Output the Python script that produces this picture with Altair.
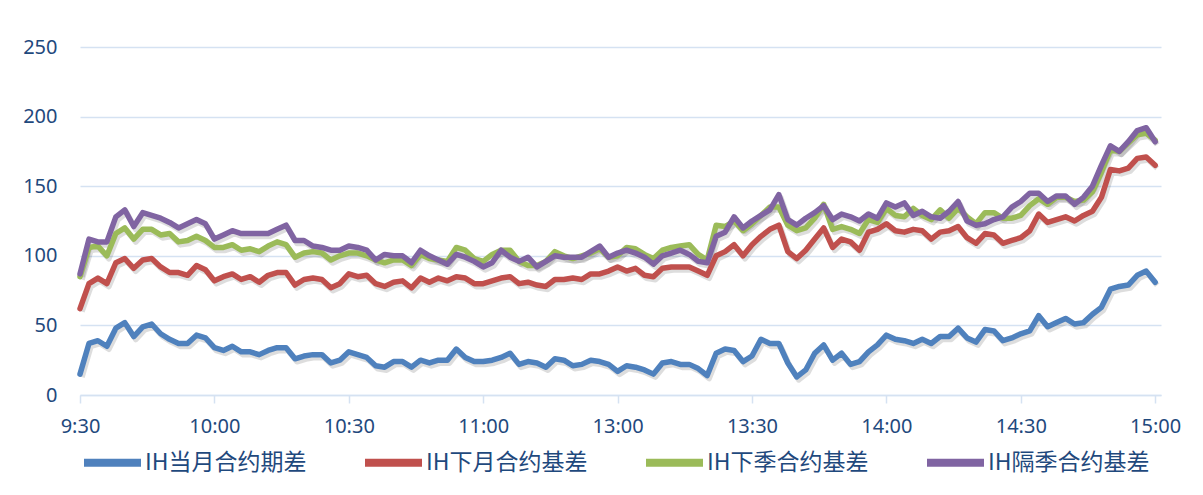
import altair as alt
import pandas as pd

# x axis: trading-time index in minutes since 9:30 (lunch break removed), sampled every 2 minutes
tick_labels = ["9:30", "10:00", "10:30", "11:00", "13:00", "13:30", "14:00", "14:30", "15:00"]
tick_minutes = [0, 30, 60, 90, 120, 150, 180, 210, 240]
minutes = list(range(0, 241, 2))

series_names = ["IH当月合约期差", "IH下月合约基差", "IH下季合约基差", "IH隔季合约基差"]
colors = ["#4F81BD", "#C0504D", "#9BBB59", "#8064A2"]

ih_current = [
    15, 37, 39, 35, 48, 52, 42, 49, 51, 44,
    40, 37, 37, 43, 41, 34, 32, 35, 31, 31,
    29, 32, 34, 34, 26, 28, 29, 29, 23, 25,
    31, 29, 27, 21, 20, 24, 24, 20, 25, 23,
    25, 25, 33, 27, 24, 24, 25, 27, 30, 22,
    24, 23, 20, 26, 25, 21, 22, 25, 24, 22,
    17, 21, 20, 18, 15, 23, 24, 22, 22, 19,
    14, 30, 33, 32, 24, 28, 40, 37, 37, 23,
    13, 18, 30, 36, 25, 30, 22, 24, 31, 36,
    43, 40, 39, 37, 40, 37, 42, 42, 48, 41,
    38, 47, 46, 39, 41, 44, 46, 57, 49, 52,
    55, 51, 52, 58, 63, 76, 78, 79, 86, 89,
    81,
]
ih_next = [
    62, 80, 84, 80, 95, 98, 91, 97, 98, 92,
    88, 88, 86, 93, 90, 82, 85, 87, 83, 85,
    81, 86, 88, 88, 79, 83, 84, 83, 77, 80,
    87, 85, 86, 80, 78, 81, 82, 77, 84, 81,
    84, 82, 85, 84, 80, 80, 82, 84, 85, 80,
    81, 79, 78, 83, 83, 84, 83, 87, 87, 89,
    92, 89, 91, 86, 85, 91, 92, 92, 92, 89,
    86, 100, 103, 108, 100, 108, 114, 119, 122, 103,
    98, 104, 112, 120, 106, 112, 110, 104, 117, 119,
    123, 118, 117, 119, 118, 112, 117, 118, 121, 113,
    109, 116, 115, 109, 111, 113, 118, 130, 124, 126,
    128, 125, 129, 132, 142, 162, 161, 163, 170, 171,
    165,
]
ih_next_q = [
    85, 106, 107, 100, 116, 120, 112, 119, 119, 115,
    116, 110, 111, 114, 111, 106, 106, 108, 104, 105,
    103, 107, 110, 108, 99, 102, 103, 102, 97, 100,
    102, 102, 100, 97, 95, 97, 97, 93, 101, 98,
    97, 96, 106, 104, 98, 96, 101, 104, 104, 96,
    93, 93, 96, 103, 100, 98, 100, 102, 105, 99,
    100, 106, 105, 101, 98, 104, 106, 107, 108, 101,
    97, 122, 121, 125, 118, 123, 129, 135, 135, 122,
    118, 120, 127, 137, 119, 121, 119, 116, 126, 124,
    134, 129, 128, 134, 129, 126, 133, 127, 134, 128,
    123, 131, 131, 127, 127, 129, 136, 141, 137, 142,
    142, 139, 140, 146, 160, 176, 175, 181, 187, 188,
    183,
]
ih_far_q = [
    87, 112, 110, 110, 128, 133, 121, 131, 129, 127,
    124, 120, 123, 126, 123, 112, 115, 118, 116, 116,
    116, 116, 119, 122, 111, 111, 107, 106, 104, 104,
    107, 106, 104, 97, 101, 100, 100, 95, 104, 100,
    97, 94, 101, 99, 96, 92, 95, 104, 99, 96,
    99, 92, 96, 100, 99, 99, 99, 103, 107, 99,
    102, 104, 102, 99, 94, 100, 102, 104, 101, 96,
    95, 114, 117, 128, 120, 125, 129, 133, 144, 126,
    122, 127, 131, 136, 126, 130, 128, 125, 130, 127,
    138, 135, 138, 129, 132, 128, 127, 132, 139, 125,
    122, 123, 126, 128, 135, 139, 145, 145, 139, 143,
    143, 137, 142, 150, 165, 179, 175, 182, 190, 192,
    182,
]

all_series = [ih_current, ih_next, ih_next_q, ih_far_q]
rows = []
for name, vals in zip(series_names, all_series):
    for m, v in zip(minutes, vals):
        rows.append({"minute": m, "series": name, "value": v})
df = pd.DataFrame(rows)

grid_col = "#D5E2F2"
text_col = "#1F497D"
label_expr = "[" + ",".join("'%s'" % t for t in tick_labels) + "][round(datum.value/30)]"

x_enc = alt.X(
    "minute:Q",
    scale=alt.Scale(domain=[0, 241.3], nice=False, zero=False),
    axis=alt.Axis(
        values=tick_minutes, labelExpr=label_expr, title=None, grid=False,
        domain=True, domainColor=grid_col, domainWidth=1.5,
        ticks=True, tickColor=grid_col, tickSize=8, tickWidth=1.5,
        labelFont="Noto Sans", labelFontSize=20, labelColor=text_col,
        labelPadding=13, labelFlush=False,
    ),
)
y_enc = alt.Y(
    "value:Q",
    scale=alt.Scale(domain=[0, 250], nice=False),
    axis=alt.Axis(
        values=[0, 50, 100, 150, 200, 250], title=None, grid=True,
        gridColor=grid_col, gridWidth=1.5, domain=False, ticks=False, tickSize=0,
        labelFont="Noto Sans", labelFontSize=20, labelColor=text_col,
        labelPadding=23,
    ),
)
color_enc = alt.Color(
    "series:N",
    scale=alt.Scale(domain=series_names, range=colors),
    legend=alt.Legend(
        title=None, orient="none", legendX=0, legendY=383, direction="horizontal",
        symbolType="stroke", symbolStrokeWidth=8, symbolSize=3249,
        labelFont="Noto Sans CJK SC", labelFontSize=23, labelColor=text_col,
        labelOffset=0, columnPadding=42, padding=0, labelLimit=400,
    ),
)

base = alt.Chart(df)
shadow = base.mark_line(
    strokeWidth=5.5, opacity=0.18, xOffset=2, yOffset=3, strokeJoin="round", color="#404040"
).encode(x=x_enc, y=y_enc, detail="series:N")

layers = [shadow]
for name in series_names:
    layers.append(
        base.transform_filter(alt.datum.series == name)
        .mark_line(strokeWidth=5.5, strokeJoin="round", strokeCap="round")
        .encode(x=x_enc, y=y_enc, color=color_enc)
    )

chart = (
    alt.layer(*layers)
    .properties(
        width=1081, height=348,
        padding={"left": 72, "top": 39, "right": 34, "bottom": 92},
        autosize=alt.AutoSizeParams(type="none"),
        background="white",
    )
    .configure_view(stroke=None)
)

chart.save("out.html", embed_options={"renderer": "svg", "actions": False})
